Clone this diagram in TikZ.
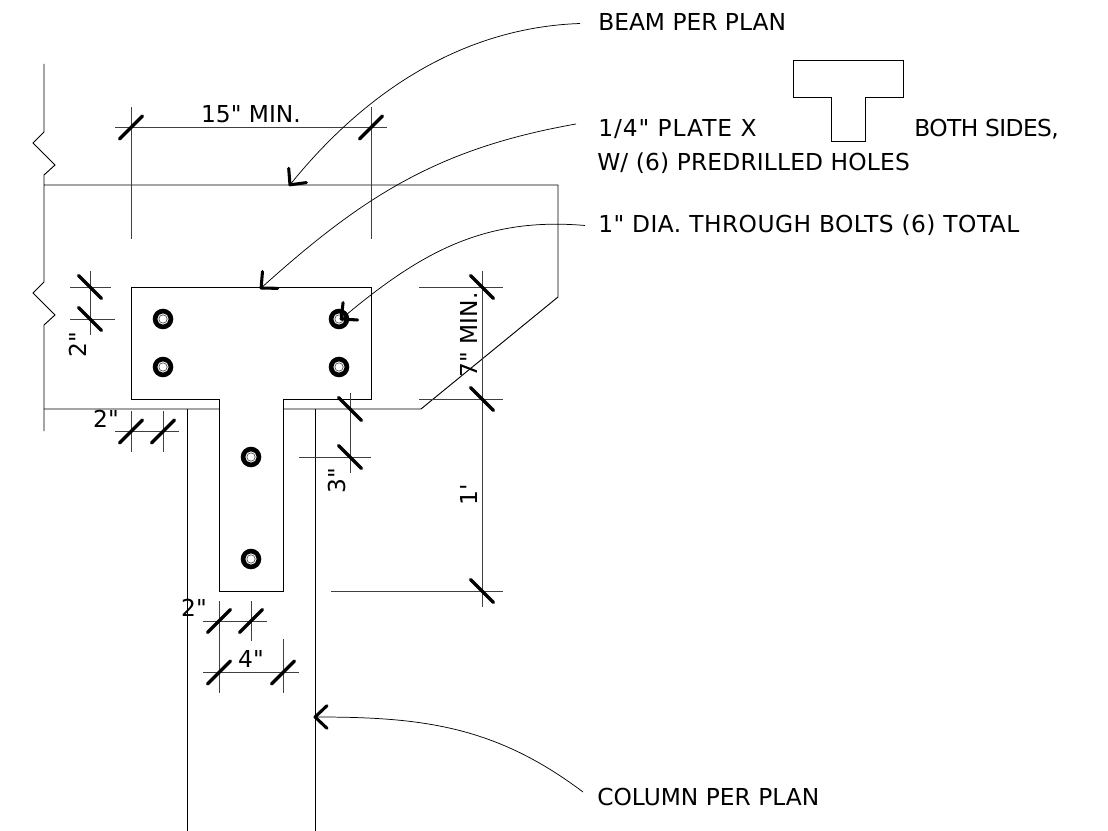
\documentclass[tikz,border=0pt]{standalone}
\usepackage{fontspec}
\setmainfont[Ligatures=TeXOff]{DejaVu Sans}
\usetikzlibrary{arrows.meta}

\begin{document}
\begin{tikzpicture}[x=0.75pt,y=-0.75pt,>={Straight Barb[length=9pt,width=17pt,line width=2.3pt,round]}]

    \tikzstyle{member}=[line width=0.7pt]
    \tikzstyle{dimline}=[line width=0.6pt, black!75]
    \tikzstyle{tickmark}=[line width=2.5pt, line cap=round]
    \tikzstyle{leader}=[->, line width=0.55pt]
    \tikzstyle{calltext}=[anchor=base west, inner sep=0pt, font=\fontsize{17.5}{20}\selectfont]
    \tikzstyle{dimtext}=[inner sep=0pt, font=\fontsize{17.5}{20}\selectfont]

    \def \tickR {11.5} % half of a tick mark, in px
    \newcommand\boltmark[2]{
        \fill (#1,#2) circle (10.3*0.75pt);
        \fill[white] (#1,#2) circle (5.6*0.75pt);
        \draw[line width=0.5pt, black!70] (#1,#2) circle (4.2*0.75pt);
    }

    \useasboundingbox (0,0) rectangle (1108,831);

    % the beam, with its two break marks
    \draw[member] (558,185) -- (44,185) (44,64) -- (44,132) -- (33,143) -- (55,165) -- (44,175) -- (44,282) -- (33,293) -- (55,315) -- (44,325) -- (44,431);
    \draw[member] (44,409) -- (219,409) (283,409) -- (421,409) -- (558,297) -- (558,185);

    % the column
    \draw[member] (187,409) -- (187,831) (315,409) -- (315,831);

    % the plate, and the small one beside the note
    \draw[member] (131,287) -- (371,287) -- (371,399) -- (283,399) -- (283,591) -- (219,591) -- (219,399) -- (131,399) -- cycle;
    \draw[member] (793,60) -- (903,60) -- (903,97) -- (865,97) -- (865,141) -- (831,141) -- (831,97) -- (793,97) -- cycle;

    % create the bolts
    \boltmark{163}{319}
    \boltmark{339}{319}
    \boltmark{163}{367}
    \boltmark{339}{367}
    \boltmark{251}{457}
    \boltmark{251}{559}

    % dimension and extension lines
    \draw[dimline] (115,127.5) -- (387,127.5) (131,107.5) -- (131,239) (371,107.5) -- (371,239);
    \draw[dimline] (90,271) -- (90,335) (70,287) -- (111,287) (70,319) -- (115,319);
    \draw[dimline] (115,431.5) -- (179,431.5) (131,411) -- (131,451.5) (163,411) -- (163,451.5);
    \draw[dimline] (350,393) -- (350,473) (299,457) -- (371,457);
    \draw[dimline] (482,271) -- (482,607) (419,287) -- (503,287) (419,399) -- (503,399) (331,591) -- (503,591);
    \draw[dimline] (203,621) -- (267,621) (219,601) -- (219,641) (251,601) -- (251,641);
    \draw[dimline] (203,672.5) -- (299,672.5) (219,641) -- (219,693) (283,639) -- (283,693);

    % create the tick marks
    \foreach \x/\y in {131/127.5, 371/127.5, 131/431.5, 163/431.5, 219/621, 251/621, 219/672.5, 283/672.5}
        \draw[tickmark] (\x-\tickR,\y+\tickR) -- (\x+\tickR,\y-\tickR);
    \foreach \x/\y in {90/287, 90/319, 350/409, 350/457, 482/287, 482/399, 482/591}
        \draw[tickmark] (\x-\tickR,\y-\tickR) -- (\x+\tickR,\y+\tickR);

    % dimension texts
    \node[dimtext] (dim_fifteen) at (251,114) {15" MIN.};
    \node[dimtext, rotate=90] (dim_left) at (78,345) {2"};
    \node[dimtext] (dim_edge) at (106,419) {2"};
    \node[dimtext, rotate=90] (dim_three) at (337,481) {3"};
    \node[dimtext, rotate=90] (dim_seven) at (469,335) {7" MIN.};
    \node[dimtext, rotate=90] (dim_foot) at (469,495) {1'};
    \node[dimtext] (dim_stem) at (194,608) {2"};
    \node[dimtext] (dim_four) at (251,659) {4"};

    % the notes on the right
    \node[calltext] (beam_note) at (598,31) {BEAM PER PLAN};
    \node[calltext] (plate_note) at (598,137) {\addfontfeature{LetterSpace=4}1/4" PLATE X};
    \node[calltext] (plate_sides) at (914,137) {\addfontfeature{LetterSpace=-2.5}BOTH SIDES,};
    \node[calltext] (plate_holes) at (597,171) {\addfontfeature{LetterSpace=0.7}W/ (6) PREDRILLED HOLES};
    \node[calltext] (bolt_note) at (598,233) {\addfontfeature{LetterSpace=2}1" DIA. THROUGH BOLTS (6) TOTAL};
    \node[calltext] (column_note) at (597,805) {COLUMN PER PLAN};

    % both ends of the leaders
    \coordinate (beam_from) at (580,23.5);
    \coordinate (plate_from) at (576,124);
    \coordinate (bolt_from) at (585,225.5);
    \coordinate (column_from) at (583,792);
    \coordinate (beam_tip) at (289,186);
    \coordinate (plate_tip) at (260,289);
    \coordinate (bolt_tip) at (340,320);
    \coordinate (column_tip) at (313.5,717);

    % create the leaders
    \draw [leader] (beam_from) to [out=182,in=51,out looseness=0.85] (beam_tip);
    \draw [leader] (plate_from) to [out=190,in=42] (plate_tip);
    \draw [leader] (bolt_from) to [out=175,in=40] (bolt_tip);
    \draw [leader] (column_from) to [out=143,in=0] (column_tip);

\end{tikzpicture}
\end{document}
